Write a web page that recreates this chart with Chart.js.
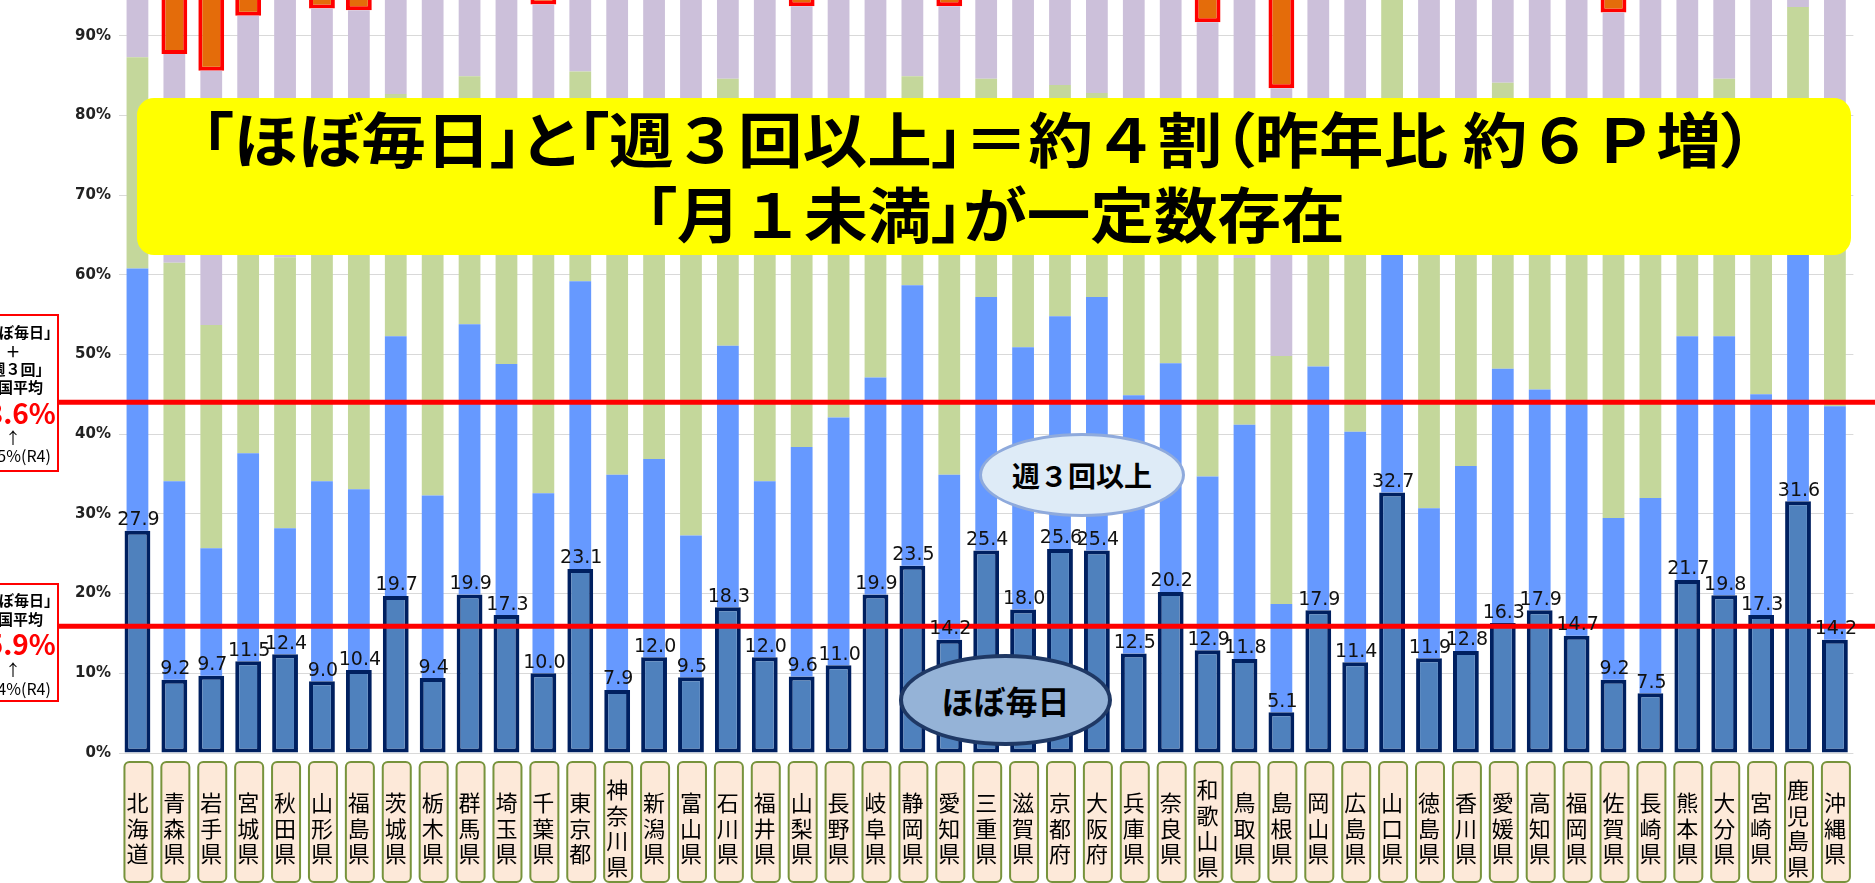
<!DOCTYPE html>
<html lang="ja">
<head>
<meta charset="utf-8">
<script src="https://cdn.jsdelivr.net/npm/chart.js@4.4.1/dist/chart.umd.min.js"></script>
<style>
  html, body { margin: 0; padding: 0; background: #fff; }
  body { position: relative; width: 1875px; height: 883px; overflow: hidden; font-family: "Noto Sans CJK JP", sans-serif; }
  #wrap { position: absolute; left: 0; top: -64px; width: 1875px; height: 947px; }
  #title { position: absolute; left: 137px; top: 98px; width: 1714px; height: 157px; background: #FFFF00; border-radius: 17px; z-index: 5; }
  .tl { position: absolute; text-align: center; white-space: nowrap; font: 700 60px "Noto Sans CJK JP"; line-height: 75px; color: #000; font-feature-settings: "palt"; }
  .tl > span { display: inline-block; transform-origin: center; }
  .tl .fw { font-feature-settings: normal; }
  .ell { position: absolute; border-radius: 50%; display: flex; align-items: center; justify-content: center; font-weight: 700; color: #000; z-index: 5; box-sizing: border-box; }
  #e1 { left: 979px; top: 433px; width: 206px; height: 84px; background: #DEEBF7; border: 3px solid #8FAADC; font-size: 28px; }
  #e2 { left: 899px; top: 654px; width: 213px; height: 92px; background: #95B3D7; border: 4px solid #1F3864; font-size: 32px; }
  .box { position: absolute; left: -33px; width: 92px; border: 2px solid #FF0000; background: #fff; box-sizing: border-box; text-align: center; z-index: 5; color: #000; }
  .box div { white-space: nowrap; }
  .b { font-weight: 700; font-size: 15px; }
  .big { font-weight: 700; font-size: 28px; color: #FF0000; }
  .n { font-size: 16px; }
</style>
</head>
<body>
<div id="wrap"><canvas id="chart"></canvas></div>

<div id="title">
  <!-- line centres sit at x=977 and x=995 on the page -->
  <div class="tl" id="t1" style="top:1px;left:0;width:1680px"><span>「ほぼ毎日」と「週<span class="fw">３</span>回以上」＝約<span class="fw">４</span>割（昨年比 約<span class="fw">６Ｐ</span>増）</span></div>
  <div class="tl" id="t2" style="top:76px;left:0;width:1716px"><span>「月<span class="fw">１</span>未満」が一定数存在</span></div>
</div>

<div class="ell" id="e1">週３回以上</div>
<div class="ell" id="e2">ほぼ毎日</div>

<div class="box" style="top:314px;height:158px;padding-top:6px">
  <div class="b" style="line-height:19px">「ほぼ毎日」</div>
  <div class="b" style="line-height:19px">＋</div>
  <div class="b" style="line-height:18px">「週３回」</div>
  <div class="b" style="line-height:18px">全国平均</div>
  <div class="big" style="line-height:32px">43.6%</div>
  <div class="n" style="line-height:18px">↑</div>
  <div class="n" style="line-height:19px">37.5%(R4)</div>
</div>
<div class="box" style="top:583px;height:119px;padding-top:5px">
  <div class="b" style="line-height:19px">「ほぼ毎日」</div>
  <div class="b" style="line-height:19px">全国平均</div>
  <div class="big" style="line-height:31px">15.9%</div>
  <div class="n" style="line-height:20px">↑</div>
  <div class="n" style="line-height:19px">12.4%(R4)</div>
</div>

<script>
// prefectures (x categories)
const prefectures = ['北海道','青森県','岩手県','宮城県','秋田県','山形県','福島県','茨城県','栃木県','群馬県',
  '埼玉県','千葉県','東京都','神奈川県','新潟県','富山県','石川県','福井県','山梨県','長野県',
  '岐阜県','静岡県','愛知県','三重県','滋賀県','京都府','大阪府','兵庫県','奈良県','和歌山県',
  '鳥取県','島根県','岡山県','広島県','山口県','徳島県','香川県','愛媛県','高知県','福岡県',
  '佐賀県','長崎県','熊本県','大分県','宮崎県','鹿児島県','沖縄県'];

// shares (%) per answer
const daily = [27.9, 9.2, 9.7, 11.5, 12.4, 9.0, 10.4, 19.7, 9.4, 19.9,
  17.3, 10.0, 23.1, 7.9, 12.0, 9.5, 18.3, 12.0, 9.6, 11.0,
  19.9, 23.5, 14.2, 25.4, 18.0, 25.6, 25.4, 12.5, 20.2, 12.9,
  11.8, 5.1, 17.9, 11.4, 32.7, 11.9, 12.8, 16.3, 17.9, 14.7,
  9.2, 7.5, 21.7, 19.8, 17.3, 31.6, 14.2];
const week3 = [32.9, 24.9, 16.0, 26.1, 15.8, 25.1, 22.7, 32.6, 22.9, 33.9,
  31.5, 22.6, 36.1, 27.0, 24.9, 17.8, 32.8, 22.1, 28.8, 31.1,
  27.2, 35.2, 20.7, 31.8, 32.9, 29.2, 31.8, 32.4, 28.7, 21.8,
  29.4, 13.6, 30.6, 28.9, 35.3, 18.8, 23.2, 31.9, 27.7, 29.1,
  20.3, 24.5, 30.6, 32.5, 27.7, 34.4, 29.3];
const week1 = [26.5, 27.4, 28.0, 34.4, 34.0, 40.9, 42.9, 30.4, 41.7, 31.1,
  24.2, 42.4, 26.3, 39.1, 35.1, 42.7, 33.5, 37.9, 35.6, 30.9,
  24.9, 26.2, 38.1, 27.4, 23.1, 29.0, 25.6, 30.1, 27.1, 37.3,
  20.9, 31.1, 23.5, 30.7, 29.0, 42.3, 38.0, 35.9, 26.4, 29.2,
  44.5, 40.0, 20.7, 32.3, 29.0, 27.6, 31.1];
const month1 = [12.7, 26.2, 31.9, 20.5, 37.8, 18.4, 17.2, 17.3, 26.0, 15.1,
  27.0, 18.9, 14.5, 26.0, 28.0, 30.0, 15.4, 28.0, 19.7, 27.0,
  28.0, 15.1, 20.7, 15.4, 26.0, 16.2, 17.2, 19.5, 24.0, 19.7,
  37.9, 33.6, 28.0, 29.0, 3.0, 27.0, 26.0, 15.9, 28.0, 27.0,
  18.9, 28.0, 27.0, 15.4, 26.0, 6.4, 25.4];
// 月1未満 (highlighted prefectures only)
const lessMonth = [null, 12.3, 14.4, 7.5, null, 6.6, 6.8, null, null, null,
  null, 6.1, null, null, null, null, null, null, 6.3, null,
  null, null, 6.3, null, null, null, null, 5.5, null, 8.3,
  null, 16.6, null, null, null, null, null, null, null, null,
  7.1, null, null, null, null, null, null];

// national averages (red lines)
const avgLines = [44.0, 15.9];
const yTicks = [0, 10, 20, 30, 40, 50, 60, 70, 80, 90];

const overlay = {
  id: 'overlay',
  beforeDraw(chart) {
    const ctx = chart.ctx;
    const x = chart.scales.x;
    ctx.save();
    ctx.fillStyle = '#FDE9D9';
    ctx.strokeStyle = '#77933C';
    ctx.lineWidth = 2;
    prefectures.forEach((p, i) => {
      const cx = x.getPixelForValue(i) + 1;
      ctx.beginPath();
      ctx.roundRect(cx - 14, 826, 28, 120, 5);
      ctx.fill();
      ctx.stroke();
    });
    ctx.restore();
  },
  afterDatasetsDraw(chart) {
    const ctx = chart.ctx;
    const y = chart.scales.y;
    ctx.save();
    ctx.strokeStyle = '#FF0000';
    ctx.lineWidth = 5;
    avgLines.forEach(v => {
      const py = y.getPixelForValue(v);
      ctx.beginPath();
      ctx.moveTo(59, py);
      ctx.lineTo(1875, py);
      ctx.stroke();
    });
    const meta = chart.getDatasetMeta(0);
    ctx.fillStyle = '#111';
    ctx.font = '19px "DejaVu Sans"';
    ctx.textAlign = 'center';
    ctx.textBaseline = 'bottom';
    meta.data.forEach((bar, i) => {
      ctx.fillText(daily[i].toFixed(1), bar.x + 1, bar.y - 1);
    });
    ctx.restore();
  }
};

const ctx = document.getElementById('chart').getContext('2d');
new Chart(ctx, {
  type: 'bar',
  data: {
    labels: prefectures.map(p => p.split('')),
    datasets: [
      { label: 'ほぼ毎日', data: daily, backgroundColor: '#4F81BD', borderColor: '#002060', borderWidth: 4, borderSkipped: false, barPercentage: 0.70 },
      { label: '週３回以上', data: week3, backgroundColor: '#6699FF', borderWidth: 0, barPercentage: 0.59 },
      { label: '週１回以上', data: week1, backgroundColor: '#C4D79B', borderWidth: 0, barPercentage: 0.59 },
      { label: '月１回以上', data: month1, backgroundColor: '#CCC0DA', borderWidth: 0, barPercentage: 0.59 },
      { label: '月１未満', data: lessMonth, backgroundColor: '#E46C0A', borderColor: '#FF0000', borderWidth: 4, borderSkipped: false, barPercentage: 0.70 }
    ]
  },
  options: {
    responsive: true,
    maintainAspectRatio: false,
    animation: false,
    layout: { padding: { top: 20, right: 8, left: 0, bottom: 0 } },
    datasets: { bar: { categoryPercentage: 1.0 } },
    scales: {
      x: {
        stacked: true,
        grid: { display: false },
        border: { display: false },
        ticks: {
          autoSkip: false, maxRotation: 0, minRotation: 0, crossAlign: 'center', padding: 29,
          color: '#000',
          font: { family: '"Noto Sans CJK JP"', size: 22, lineHeight: 1.16 }
        },
        afterFit: s => { s.height = 130; }
      },
      y: {
        stacked: true,
        min: 0,
        max: 100,
        afterBuildTicks: s => { s.ticks = yTicks.map(v => ({ value: v })); },
        grid: { color: '#D9D9D9', drawTicks: false },
        border: { display: false },
        ticks: {
          padding: 8,
          color: '#222',
          font: { family: '"DejaVu Sans"', size: 15, weight: 'bold' },
          callback: v => v + '%'
        },
        afterFit: s => { s.width = 119; }
      }
    },
    plugins: {
      legend: { display: false },
      tooltip: { enabled: false }
    }
  },
  plugins: [overlay]
});

// fit the title lines to the original width
const fitLine = (id, target) => {
  const span = document.querySelector('#' + id + ' > span');
  const w = span.getBoundingClientRect().width;
  span.style.transform = 'scaleX(' + (target / w).toFixed(3) + ')';
};
fitLine('t1', 1552);
fitLine('t2', 700);
</script>
</body>
</html>
